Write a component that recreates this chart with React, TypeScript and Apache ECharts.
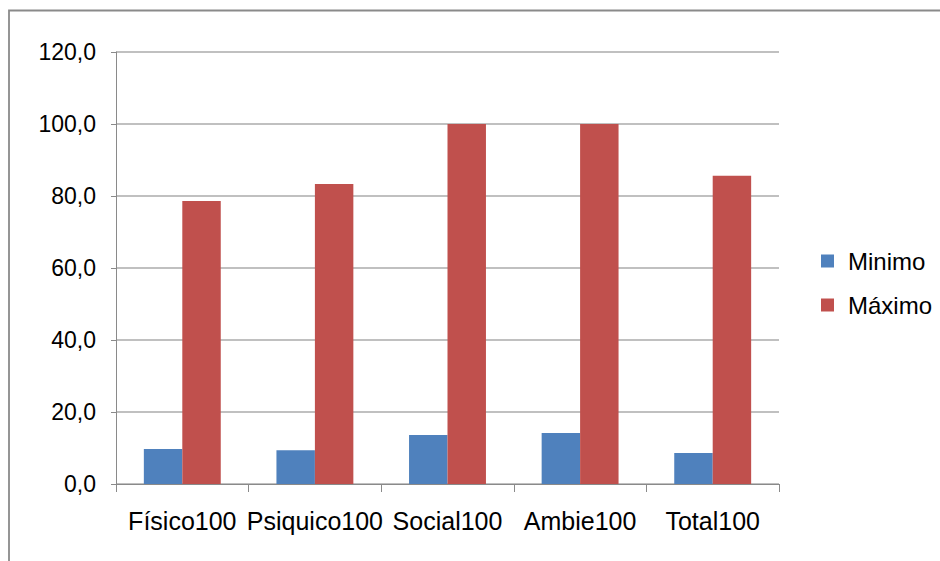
import React, { useEffect, useRef } from "react";
import * as echarts from "echarts";

const categories = ["Físico100", "Psiquico100", "Social100", "Ambie100", "Total100"];
const minimo = [9.7, 9.4, 13.6, 14.2, 8.6];
const maximo = [78.6, 83.3, 100, 100, 85.6];
const seriesNames = ["Minimo", "Máximo"];

export default function App() {
  const ref = useRef<HTMLDivElement>(null);
  useEffect(() => {
    if (!ref.current) return;
    const chart = echarts.init(ref.current, undefined, { renderer: "svg" });
    const font = "'Liberation Sans', Arial, sans-serif";
    chart.setOption({
      animation: false,
      backgroundColor: "#ffffff",
      graphic: [
        {
          type: "rect",
          shape: { x: 9, y: 10.5, width: 1000, height: 700 },
          style: { fill: "none", stroke: "#8a8a8a", lineWidth: 1.8 },
          z: -1,
        },
      ],
      legend: {
        orient: "vertical",
        left: 816,
        top: 244,
        itemWidth: 13,
        itemHeight: 13,
        itemGap: 20,
        icon: "rect",
        textStyle: { fontFamily: font, fontSize: 24, color: "#000", padding: [0, 0, 0, 9] },
        data: seriesNames,
      },
      grid: { left: 116, right: 161, top: 52, bottom: 77, containLabel: false },
      xAxis: {
        type: "category",
        data: categories,
        axisLine: { lineStyle: { color: "#8a8a8a", width: 1 } },
        axisTick: { show: true, length: 8, lineStyle: { color: "#8a8a8a" } },
        axisLabel: { fontFamily: font, fontSize: 25, color: "#000", margin: 24, interval: 0 },
      },
      yAxis: {
        type: "value",
        min: 0,
        max: 120,
        interval: 20,
        axisLine: { show: true, lineStyle: { color: "#8a8a8a", width: 1 } },
        axisTick: { show: true, length: 5, lineStyle: { color: "#8a8a8a" } },
        splitLine: { lineStyle: { color: "#ababab", width: 1.5 } },
        axisLabel: {
          fontFamily: font,
          fontSize: 23,
          color: "#000",
          margin: 20,
          formatter: (v: number) => v.toFixed(1).replace(".", ","),
        },
      },
      series: [
        {
          name: seriesNames[0],
          type: "bar",
          data: minimo,
          barGap: "0%",
          barCategoryGap: "42%",
          itemStyle: { color: "#4f81bd" },
        },
        {
          name: seriesNames[1],
          type: "bar",
          data: maximo,
          barGap: "0%",
          barCategoryGap: "42%",
          itemStyle: { color: "#c0504d" },
        },
      ],
    });
    return () => chart.dispose();
  }, []);
  return (
    <div
      ref={ref}
      style={{ position: "fixed", left: 0, top: 0, width: 940, height: 561 }}
    />
  );
}
